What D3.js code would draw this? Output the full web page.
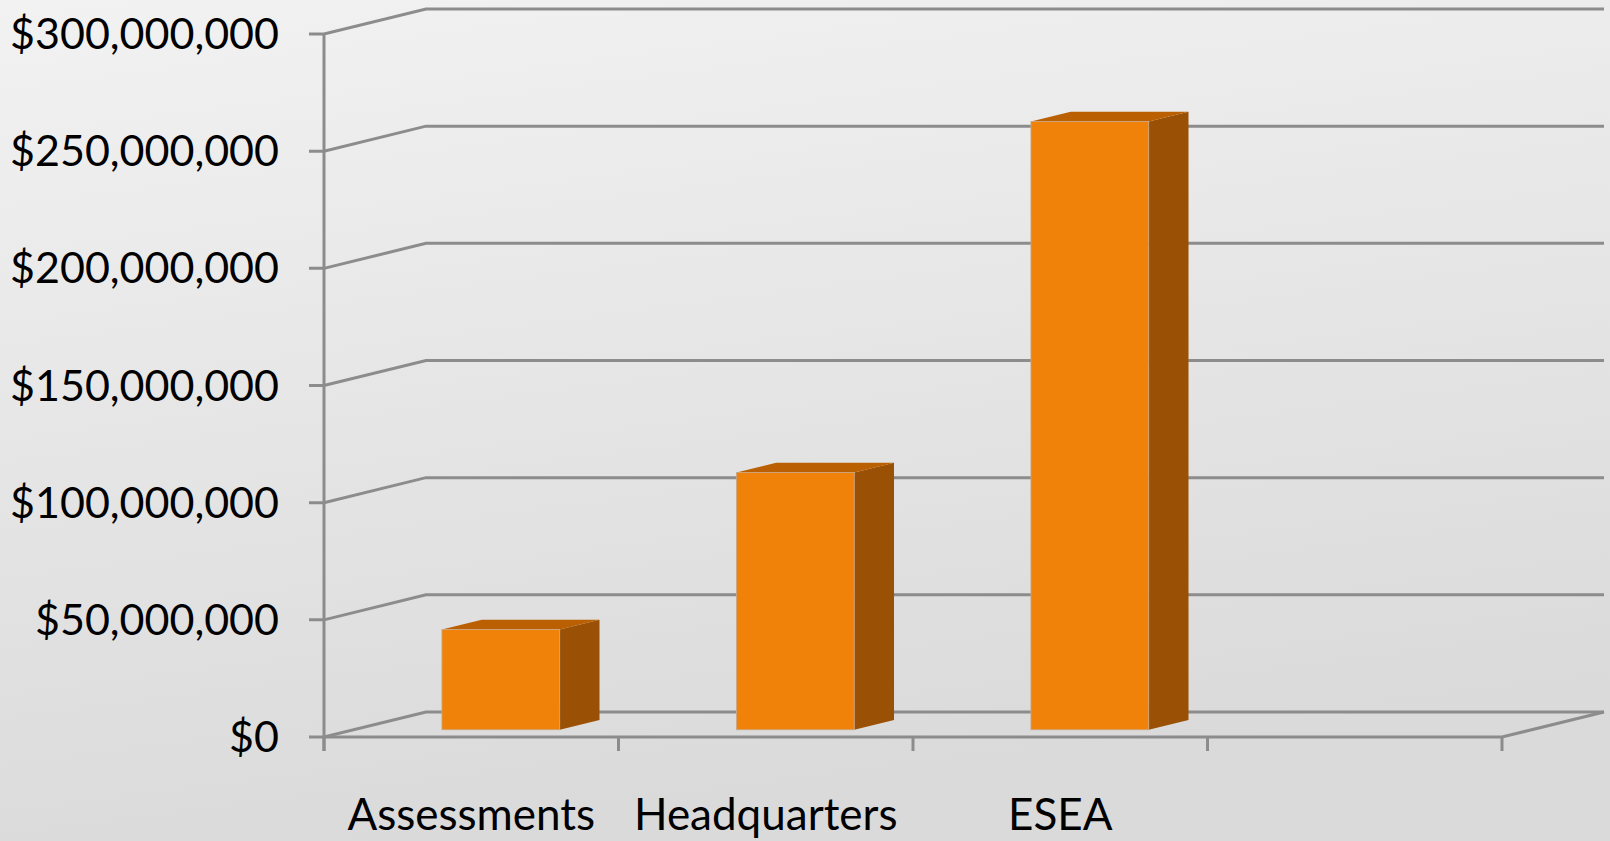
<!DOCTYPE html>
<html>
<head>
<meta charset="utf-8">
<script src="https://cdn.jsdelivr.net/npm/d3@7"></script>
<style>
  html, body { margin: 0; padding: 0; overflow: hidden; }
  svg { display: block; }
</style>
</head>
<body>
<svg id="chart" width="1610" height="841"></svg>
<script>
// ---- data ----
const categories = ["Assessments", "Headquarters", "ESEA", ""];
const values = [42800000, 109800000, 259600000, null];
const yTickValues = [0, 50000000, 100000000, 150000000, 200000000, 250000000, 300000000];

// ---- layout ----
const W = 1610, H = 841;
const svg = d3.select("#chart");
const defs = svg.append("defs");
const grad = defs.append("linearGradient").attr("id", "bg")
  .attr("x1", "0").attr("y1", "0").attr("x2", "0.25").attr("y2", "1");
grad.append("stop").attr("offset", "0%").attr("stop-color", "#f2f2f2");
grad.append("stop").attr("offset", "100%").attr("stop-color", "#dadada");
svg.append("rect").attr("width", W).attr("height", H).attr("fill", "url(#bg)");

const x0 = 324, x1 = 1502;
const D = { dx: 102, dy: -25 };     // depth vector of the 3D box
const y = d3.scaleLinear().domain([0, 300000000]).range([737, 34]);
const x = d3.scaleBand().domain(categories).range([x0, x1]).paddingInner(0).paddingOuter(0);

const lineColor = "#8c8c8c";
const lw = 3;
const fmt = v => "$" + d3.format(",")(v);

// gridlines (side wall + back wall) with left tick marks
const g = svg.append("g");
yTickValues.forEach(t => {
  const yy = y(t);
  g.append("path")
    .attr("d", `M${x0 - 15},${yy} L${x0},${yy} L${x0 + D.dx},${yy + D.dy} L${x1 + D.dx},${yy + D.dy}`)
    .attr("fill", "none").attr("stroke", lineColor).attr("stroke-width", lw);
});

// floor front edge and right edge
g.append("path")
  .attr("d", `M${x0},${y(0)} L${x1},${y(0)} L${x1 + D.dx},${y(0) + D.dy}`)
  .attr("fill", "none").attr("stroke", lineColor).attr("stroke-width", lw);

// vertical axis
g.append("line").attr("x1", x0).attr("x2", x0).attr("y1", y(300000000)).attr("y2", y(0) + 14)
  .attr("stroke", lineColor).attr("stroke-width", lw);

// category ticks
const bounds = categories.map(c => x(c)).concat([x1]);
bounds.forEach(bx => {
  g.append("line").attr("x1", bx).attr("x2", bx).attr("y1", y(0)).attr("y2", y(0) + 14)
    .attr("stroke", lineColor).attr("stroke-width", lw);
});

// y tick labels
svg.append("g").selectAll("text").data(yTickValues).join("text")
  .attr("x", 279).attr("y", d => y(d) + 15)
  .attr("text-anchor", "end")
  .attr("font-family", "Lato, 'Open Sans', sans-serif")
  .attr("font-size", 43)
  .attr("fill", "#000")
  .text(fmt);

// category labels
svg.append("g").selectAll("text").data(categories).join("text")
  .attr("x", d => x(d) + x.bandwidth() / 2)
  .attr("y", 830)
  .attr("text-anchor", "middle")
  .attr("font-family", "Lato, 'Open Sans', sans-serif")
  .attr("font-size", 44)
  .attr("fill", "#000")
  .text(d => d);

// 3D bars
const f0 = 0.29, f1 = 0.68;
const barW = x.bandwidth() * 0.4;
const bars = svg.append("g");
categories.forEach((c, i) => {
  const v = values[i];
  if (v == null) return;
  const cx = x(c) + x.bandwidth() / 2;
  const L = cx - barW / 2 + f0 * D.dx;
  const R = L + barW;
  const B = y(0) + f0 * D.dy;
  const T = y(v) + f0 * D.dy;
  const ddx = (f1 - f0) * D.dx, ddy = (f1 - f0) * D.dy;
  // side
  bars.append("path")
    .attr("d", `M${R},${B} L${R + ddx},${B + ddy} L${R + ddx},${T + ddy} L${R},${T} Z`)
    .attr("fill", "#9a5005");
  // top
  bars.append("path")
    .attr("d", `M${L},${T} L${L + ddx},${T + ddy} L${R + ddx},${T + ddy} L${R},${T} Z`)
    .attr("fill", "#bb6002");
  // front
  bars.append("rect")
    .attr("x", L).attr("y", T).attr("width", barW).attr("height", B - T)
    .attr("fill", "#f0820a").attr("stroke", "#c9a888").attr("stroke-width", 0.8);
});
</script>
</body>
</html>
